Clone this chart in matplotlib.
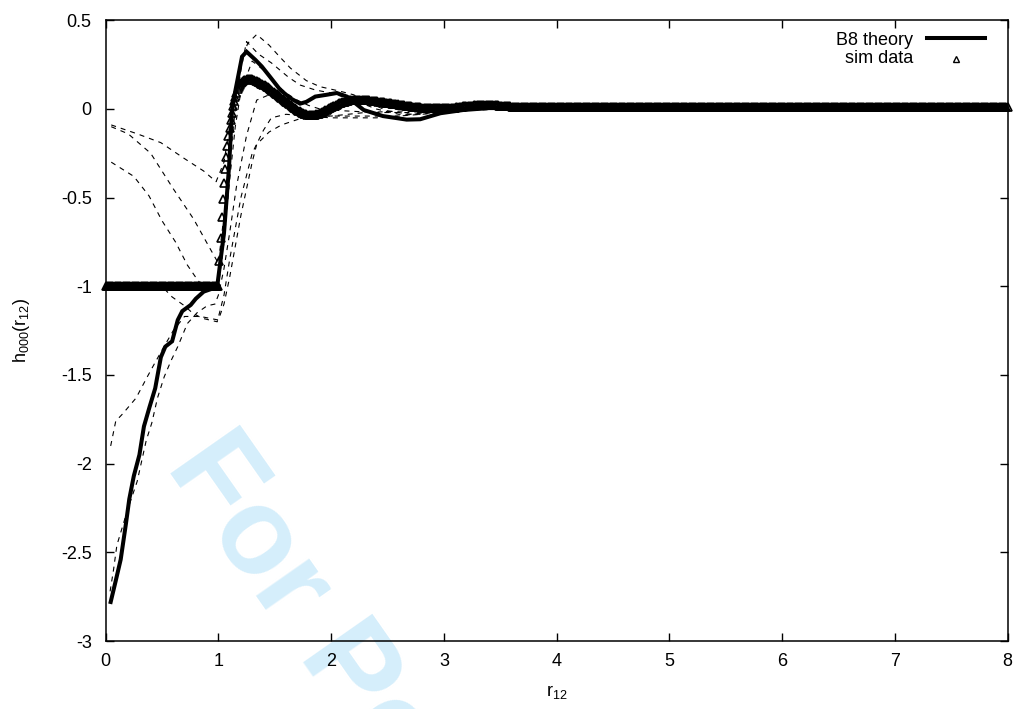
import numpy as np
import matplotlib
matplotlib.use("Agg")
import matplotlib.pyplot as plt

plt.rcParams['font.family'] = ['Liberation Sans', 'DejaVu Sans']
plt.rcParams['mathtext.default'] = 'regular'

# ---------------- data ----------------
# B8 theory
theory_r = [0.045, 0.09, 0.134, 0.18, 0.21, 0.25, 0.30, 0.34, 0.39, 0.44, 0.49, 0.53, 0.59,
            0.64, 0.68, 0.755, 0.80, 0.87, 0.96, 0.99, 1.05, 1.095, 1.12, 1.15, 1.21, 1.25,
            1.33, 1.385, 1.46, 1.55, 1.64, 1.725, 1.78, 1.86, 1.96, 2.05, 2.14, 2.29, 2.46,
            2.67, 2.79, 2.97, 3.17, 3.4, 4.0, 8.0]
theory_h = [-2.78, -2.66, -2.54, -2.34, -2.2, -2.07, -1.95, -1.79, -1.68, -1.575, -1.40, -1.34, -1.31,
            -1.19, -1.14, -1.105, -1.07, -1.03, -1.01, -1.0, -0.70, -0.325, -0.02, 0.1, 0.295, 0.323,
            0.276, 0.24, 0.18, 0.107, 0.06, 0.03, 0.04, 0.07, 0.08, 0.09, 0.07, -0.006, -0.04,
            -0.06, -0.058, -0.024, -0.006, 0.005, 0.005, 0.005]

# simulation data, sampled every 0.01 in r
sim_core_r = np.round(np.arange(0, 100) / 100, 2)          # 0.00 .. 0.99
sim_core_h = np.full(len(sim_core_r), -1.0)
sim_mid_r = np.round(np.arange(100, 360) / 100, 2)         # 1.00 .. 3.59
sim_mid_h = [
    -1.0, -0.86, -0.73, -0.61, -0.51, -0.42, -0.34, -0.27, -0.21, -0.155,
    -0.105, -0.06, -0.02, 0.015, 0.045, 0.07, 0.09, 0.11, 0.125, 0.137,
    0.147, 0.153, 0.158, 0.162, 0.166, 0.168, 0.170, 0.171, 0.171, 0.170,
    0.168, 0.166, 0.163, 0.160, 0.157, 0.154, 0.150, 0.146, 0.142, 0.139,
    0.136, 0.133, 0.130, 0.126, 0.122, 0.117, 0.112, 0.107, 0.102, 0.097,
    0.092, 0.087, 0.082, 0.077, 0.072, 0.067, 0.062, 0.057, 0.052, 0.047,
    0.042, 0.037, 0.032, 0.027, 0.022, 0.017, 0.012, 0.007, 0.003, -0.002,
    -0.006, -0.010, -0.014, -0.018, -0.021, -0.024, -0.027, -0.029, -0.031, -0.033,
    -0.034, -0.035, -0.035, -0.035, -0.035, -0.034, -0.033, -0.031, -0.029, -0.027,
    -0.024, -0.021, -0.018, -0.015, -0.011, -0.008, -0.004, -0.001, 0.003, 0.006,
    0.010, 0.013, 0.016, 0.019, 0.022, 0.025, 0.028, 0.031, 0.033, 0.036,
    0.038, 0.040, 0.042, 0.044, 0.045, 0.047, 0.048, 0.049, 0.050, 0.050,
    0.051, 0.051, 0.052, 0.052, 0.052, 0.052, 0.052, 0.051, 0.051, 0.050,
    0.050, 0.049, 0.049, 0.048, 0.048, 0.047, 0.046, 0.046, 0.045, 0.044,
    0.044, 0.043, 0.042, 0.041, 0.040, 0.039, 0.038, 0.037, 0.036, 0.035,
    0.034, 0.033, 0.032, 0.031, 0.030, 0.030, 0.029, 0.028, 0.027, 0.026,
    0.025, 0.024, 0.023, 0.022, 0.021, 0.020, 0.019, 0.018, 0.017, 0.016,
    0.015, 0.014, 0.013, 0.012, 0.012, 0.011, 0.010, 0.010, 0.009, 0.009,
    0.008, 0.008, 0.007, 0.007, 0.006, 0.006, 0.006, 0.006, 0.005, 0.005,
    0.005, 0.005, 0.005, 0.004, 0.004, 0.004, 0.004, 0.004, 0.004, 0.004,
    0.004, 0.004, 0.005, 0.005, 0.005, 0.005, 0.006, 0.006, 0.007, 0.007,
    0.008, 0.009, 0.010, 0.010, 0.011, 0.012, 0.013, 0.014, 0.014, 0.015,
    0.016, 0.016, 0.017, 0.017, 0.018, 0.019, 0.019, 0.020, 0.020, 0.021,
    0.021, 0.021, 0.021, 0.022, 0.022, 0.022, 0.022, 0.022, 0.022, 0.022,
    0.022, 0.022, 0.021, 0.021, 0.021, 0.021, 0.020, 0.020, 0.020, 0.019,
    0.019, 0.019, 0.018, 0.018, 0.017, 0.017, 0.016, 0.016, 0.015, 0.015,
]
sim_tail_r = np.round(np.arange(360, 801) / 100, 2)        # 3.60 .. 8.00
sim_tail_h = np.full(len(sim_tail_r), 0.013)

# other approximations (thin dashed curves)
dash_r = [
    [0.05, 0.28, 0.49, 0.70, 0.87, 0.98, 1.05, 1.10, 1.15, 1.2, 1.26, 1.34, 1.45, 1.55, 1.64, 1.78, 1.90, 2.08, 2.2, 2.35, 2.5, 2.7, 3.0, 3.5],
    [0.05, 0.2, 0.4, 0.6, 0.78, 0.92, 1.0, 1.05, 1.1, 1.15, 1.2, 1.25, 1.355, 1.47, 1.62, 1.725, 1.86, 2.0, 2.2, 2.4, 2.6, 2.8, 3.1, 3.5],
    [0.05, 0.25, 0.385, 0.5, 0.62, 0.725, 0.8, 0.86, 1.0, 1.05, 1.1, 1.15, 1.2, 1.3, 1.4, 1.5, 1.6, 1.7, 1.8, 1.9, 2.1, 2.4, 2.7, 3.0, 3.5],
    [0.0, 0.5, 0.59, 0.7, 0.77, 0.855, 0.99, 1.05, 1.1, 1.2, 1.3, 1.4, 1.47, 1.6, 1.8, 2.2, 2.6, 3.0, 3.5],
    [0.045, 0.09, 0.15, 0.27, 0.37, 0.43, 0.5, 0.6, 0.7, 0.84, 1.0, 1.05, 1.1, 1.2, 1.3, 1.34, 1.45, 1.56, 1.7, 1.78, 2.0, 2.4, 2.8, 3.2, 3.5],
    [0.04, 0.07, 0.1, 0.2, 0.28, 0.36, 0.41, 0.46, 0.52, 0.58, 0.64, 0.725, 0.81, 0.9, 0.97, 1.0, 1.05, 1.1, 1.16, 1.25, 1.34, 1.45, 1.6, 1.8, 2.0, 2.3, 2.7, 3.0, 3.5],
]
dash_h = [
    [-0.09, -0.14, -0.19, -0.28, -0.35, -0.41, -0.3, -0.1, 0.1, 0.26, 0.37, 0.42, 0.36, 0.29, 0.23, 0.16, 0.126, 0.1, 0.08, 0.03, -0.01, -0.03, -0.01, 0.0],
    [-0.10, -0.14, -0.25, -0.45, -0.62, -0.78, -0.87, -0.6, -0.3, 0.0, 0.22, 0.38, 0.31, 0.26, 0.18, 0.135, 0.107, 0.09, 0.05, 0.0, -0.03, -0.03, 0.0, 0.0],
    [-0.30, -0.38, -0.49, -0.63, -0.75, -0.88, -0.95, -1.0, -1.0, -0.75, -0.4, -0.1, 0.1, 0.27, 0.22, 0.15, 0.09, 0.05, 0.02, 0.0, -0.01, -0.02, -0.02, 0.0, 0.0],
    [-1.0, -1.0, -1.06, -1.11, -1.15, -1.18, -1.2, -1.05, -0.85, -0.5, -0.25, -0.12, -0.05, -0.03, -0.04, -0.04, -0.04, -0.01, 0.0],
    [-1.9, -1.76, -1.72, -1.63, -1.51, -1.44, -1.36, -1.25, -1.17, -1.17, -1.19, -1.1, -0.95, -0.6, -0.3, -0.2, -0.13, -0.09, -0.06, -0.04, -0.05, -0.05, -0.03, -0.01, 0.0],
    [-2.72, -2.6, -2.46, -2.25, -2.1, -1.87, -1.77, -1.63, -1.51, -1.42, -1.34, -1.21, -1.15, -1.11, -1.1, -1.05, -0.9, -0.7, -0.44, -0.15, 0.05, 0.08, 0.04, -0.03, -0.04, -0.02, -0.01, 0.0, 0.0],
]

x_ticks = [0, 1, 2, 3, 4, 5, 6, 7, 8]
y_ticks = [-3, -2.5, -2, -1.5, -1, -0.5, 0, 0.5]
y_tick_labels = ['-3', '-2.5', '-2', '-1.5', '-1', '-0.5', '0', '0.5']

# ---------------- figure ----------------
fig = plt.figure(figsize=(10.24, 7.09), dpi=100)
fig.patch.set_facecolor('white')
ax = fig.add_axes([105.6 / 1024, (709 - 641) / 709, 902 / 1024, 620.7 / 709])
ax.set_facecolor('none')

# watermark
fig.text(165 / 1024, 1 - 466 / 709, 'For Peer Review', fontsize=88, fontweight='bold',
         color='#d5eefb', rotation=-55, rotation_mode='anchor', ha='left', va='baseline',
         zorder=-5)

for rr, hh in zip(dash_r, dash_h):
    ax.plot(rr, hh, color='black', lw=0.8, ls=(0, (4.5, 4.5)), zorder=2)

ax.plot(theory_r, theory_h, color='black', lw=2.9, solid_joinstyle='miter', zorder=3)

sim_r = np.concatenate([sim_core_r, sim_mid_r, sim_tail_r])
sim_h = np.concatenate([sim_core_h, sim_mid_h, sim_tail_h])
ax.plot(sim_r, sim_h, ls='none', marker='^', ms=6.2, mfc='none', mec='black', mew=1.2,
        zorder=4, clip_on=False)

ax.set_xlim(0, 8)
ax.set_ylim(-3, 0.5)
ax.set_xticks(x_ticks)
ax.set_yticks(y_ticks)
ax.set_yticklabels(y_tick_labels)
ax.tick_params(direction='in', length=6, width=1, top=True, right=True,
               labelsize=13)
ax.tick_params(axis='x', pad=9)
ax.tick_params(axis='y', pad=10)
for s in ax.spines.values():
    s.set_linewidth(1.1)

ax.set_xlabel('r$_{12}$', fontsize=13, labelpad=9)
ax.set_ylabel('h$_{000}$(r$_{12}$)', fontsize=13, labelpad=21)

# key (gnuplot style: right aligned text, sample on the right)
ax.text(0.895, 0.968, 'B8 theory', transform=ax.transAxes, ha='right', va='center', fontsize=13)
ax.plot([0.9105, 0.9748], [0.971, 0.971], transform=ax.transAxes, color='black', lw=2.9)
ax.text(0.895, 0.9377, 'sim data', transform=ax.transAxes, ha='right', va='center', fontsize=13)
ax.plot([0.9428], [0.9377], transform=ax.transAxes, ls='none', marker='^', ms=5,
        mfc='none', mec='black', mew=1.0)

fig.savefig('out.png', dpi=100, facecolor='white')
